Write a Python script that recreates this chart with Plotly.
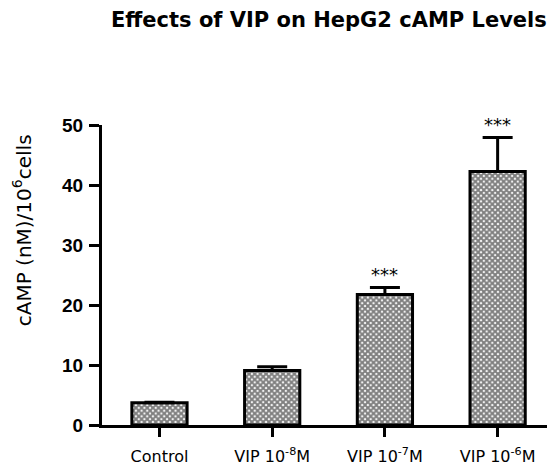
import plotly.graph_objects as go

categories = ["Control", "VIP 10<sup>-8</sup>M", "VIP 10<sup>-7</sup>M", "VIP 10<sup>-6</sup>M"]
values = [3.7, 9.1, 21.75, 42.25]
errors = [0.1, 0.6, 1.15, 5.65]
stars = ["", "", "***", "***"]
y_ticks = [0, 10, 20, 30, 40, 50]
title_text = "<b>Effects of VIP on HepG2 cAMP Levels</b>"
y_title = "cAMP (nM)/10<sup>6</sup>cells"

x = list(range(len(categories)))

fig = go.Figure()
fig.add_trace(go.Bar(
    x=x, y=values, width=0.49,
    marker=dict(
        color="white",
        line=dict(color="black", width=3),
        pattern=dict(shape="x", size=4, solidity=0.75, fgcolor="black", bgcolor="white"),
    ),
    error_y=dict(type="data", symmetric=False, array=errors, arrayminus=[0] * len(errors),
                 color="black", thickness=3, width=15),
    showlegend=False,
))

for xi, v, e, s in zip(x, values, errors, stars):
    if s:
        fig.add_annotation(x=xi, y=v + e, text=s, showarrow=False, yanchor="bottom", yshift=1,
                           font=dict(family="DejaVu Sans", size=18, color="black"))

fig.add_annotation(xref="paper", yref="paper", x=-0.176, y=0.65, text=y_title,
                   textangle=-90, showarrow=False, xanchor="center", yanchor="middle",
                   font=dict(family="DejaVu Sans", size=20, color="black"))

fig.add_annotation(xref="paper", yref="paper", x=0.5, y=1.398, text=title_text,
                   showarrow=False, xanchor="center", yanchor="top",
                   font=dict(family="DejaVu Sans", size=21, color="black"))

fig.update_layout(
    width=547, height=457,
    margin=dict(l=94, r=0, t=117, b=40),
    paper_bgcolor="white", plot_bgcolor="white",
    xaxis=dict(range=[-0.51, 3.509], tickmode="array", tickvals=x, ticktext=categories,
               showline=True, linecolor="black", linewidth=3, ticks="outside", ticklen=9,
               tickwidth=3, tickcolor="black", showgrid=False, zeroline=False,
               ticklabelstandoff=6,
               tickfont=dict(family="DejaVu Sans", size=16, color="black")),
    yaxis=dict(range=[0, 50], tickmode="array", tickvals=y_ticks,
               showline=True, linecolor="black", linewidth=3, ticks="outside", ticklen=10,
               tickwidth=3, tickcolor="black", showgrid=False, zeroline=False,
               ticklabelstandoff=2,
               tickfont=dict(family="Liberation Sans", size=19, color="black", weight="bold")),
)

fig.write_html("out.html")
